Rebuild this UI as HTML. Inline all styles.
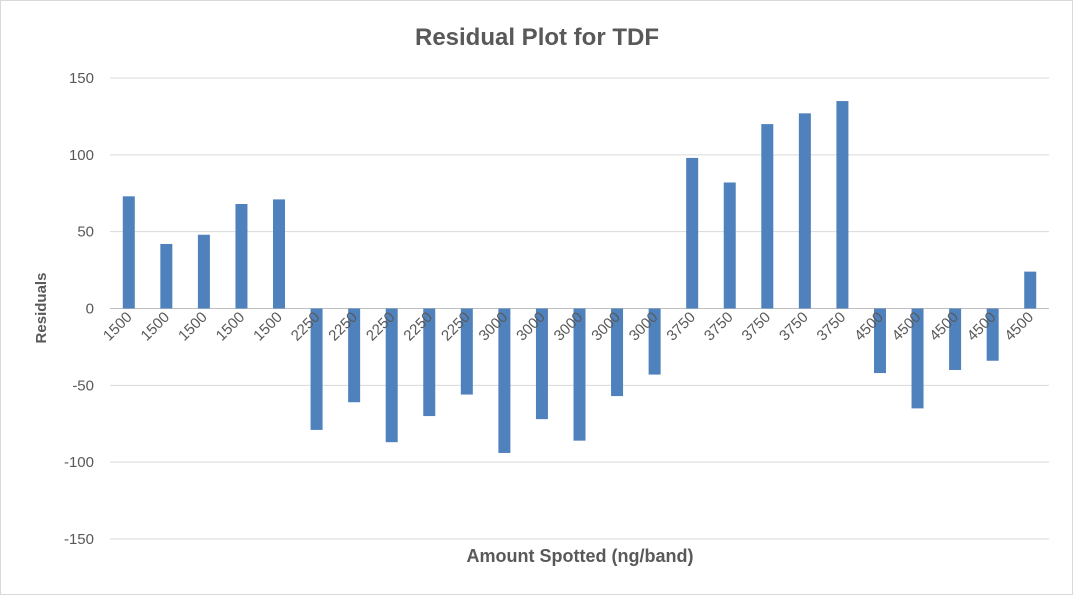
<!DOCTYPE html>
<html><head><meta charset="utf-8"><style>
body{margin:0;background:#fff}
svg{display:block;font-family:"Liberation Sans",sans-serif}
</style></head><body>
<svg width="1073" height="595" viewBox="0 0 1073 595">
<rect x="0.5" y="0.5" width="1072" height="594" fill="#fff" stroke="#d9d9d9"/>
<text x="537" y="45" text-anchor="middle" font-size="24" font-weight="bold" fill="#595959">Residual Plot for TDF</text>
<text transform="translate(46,308) rotate(-90)" text-anchor="middle" font-size="15" font-weight="bold" fill="#595959">Residuals</text>
<text x="580" y="562" text-anchor="middle" font-size="18" font-weight="bold" fill="#595959">Amount Spotted (ng/band)</text>
<g id="grid"></g><g id="bars"></g><g id="labels"></g>
</svg>
<script>
const categories=["1500","1500","1500","1500","1500","2250","2250","2250","2250","2250","3000","3000","3000","3000","3000","3750","3750","3750","3750","3750","4500","4500","4500","4500","4500"];
const residuals=[73,42,48,68,71,-79,-61,-87,-70,-56,-94,-72,-86,-57,-43,98,82,120,127,135,-42,-65,-40,-34,24];
const yTicks=[150,100,50,0,-50,-100,-150];
const NS="http://www.w3.org/2000/svg";
const x0=110,x1=1049,yTop=78,yBot=539,yMax=150,yMin=-150;
const y=v=>yTop+(yMax-v)/(yMax-yMin)*(yBot-yTop);
const step=(x1-x0)/categories.length;
const xc=i=>x0+step*(i+0.5);
function mk(t,a,p){const e=document.createElementNS(NS,t);for(const k in a)e.setAttribute(k,a[k]);p.appendChild(e);return e;}
const grid=document.getElementById('grid'),bars=document.getElementById('bars'),labels=document.getElementById('labels');
yTicks.forEach(v=>{
 const l=mk('line',{x1:x0,x2:x1,y1:y(v),y2:y(v),stroke:v===0?'#bfbfbf':'#d9d9d9','stroke-width':1},grid);
 
 
 const t=mk('text',{x:94,y:y(v)+5,'text-anchor':'end','font-size':15,fill:'#595959'},grid);
 t.textContent=v;
 
 
});
residuals.forEach((v,i)=>{
 const r=mk('rect',{x:xc(i)-6,width:12,y:Math.min(y(v),y(0)),height:Math.abs(y(v)-y(0)),fill:'#4f81bd'},bars);
 
 
});
categories.forEach((c,i)=>{
 const X=xc(i)+4,Y=318;
 const t=mk('text',{x:X,y:Y,'text-anchor':'end','font-size':15,fill:'#595959',transform:`rotate(-45 ${X} ${Y})`},labels);
 t.textContent=c;
 
 
});
</script>
</body></html>
